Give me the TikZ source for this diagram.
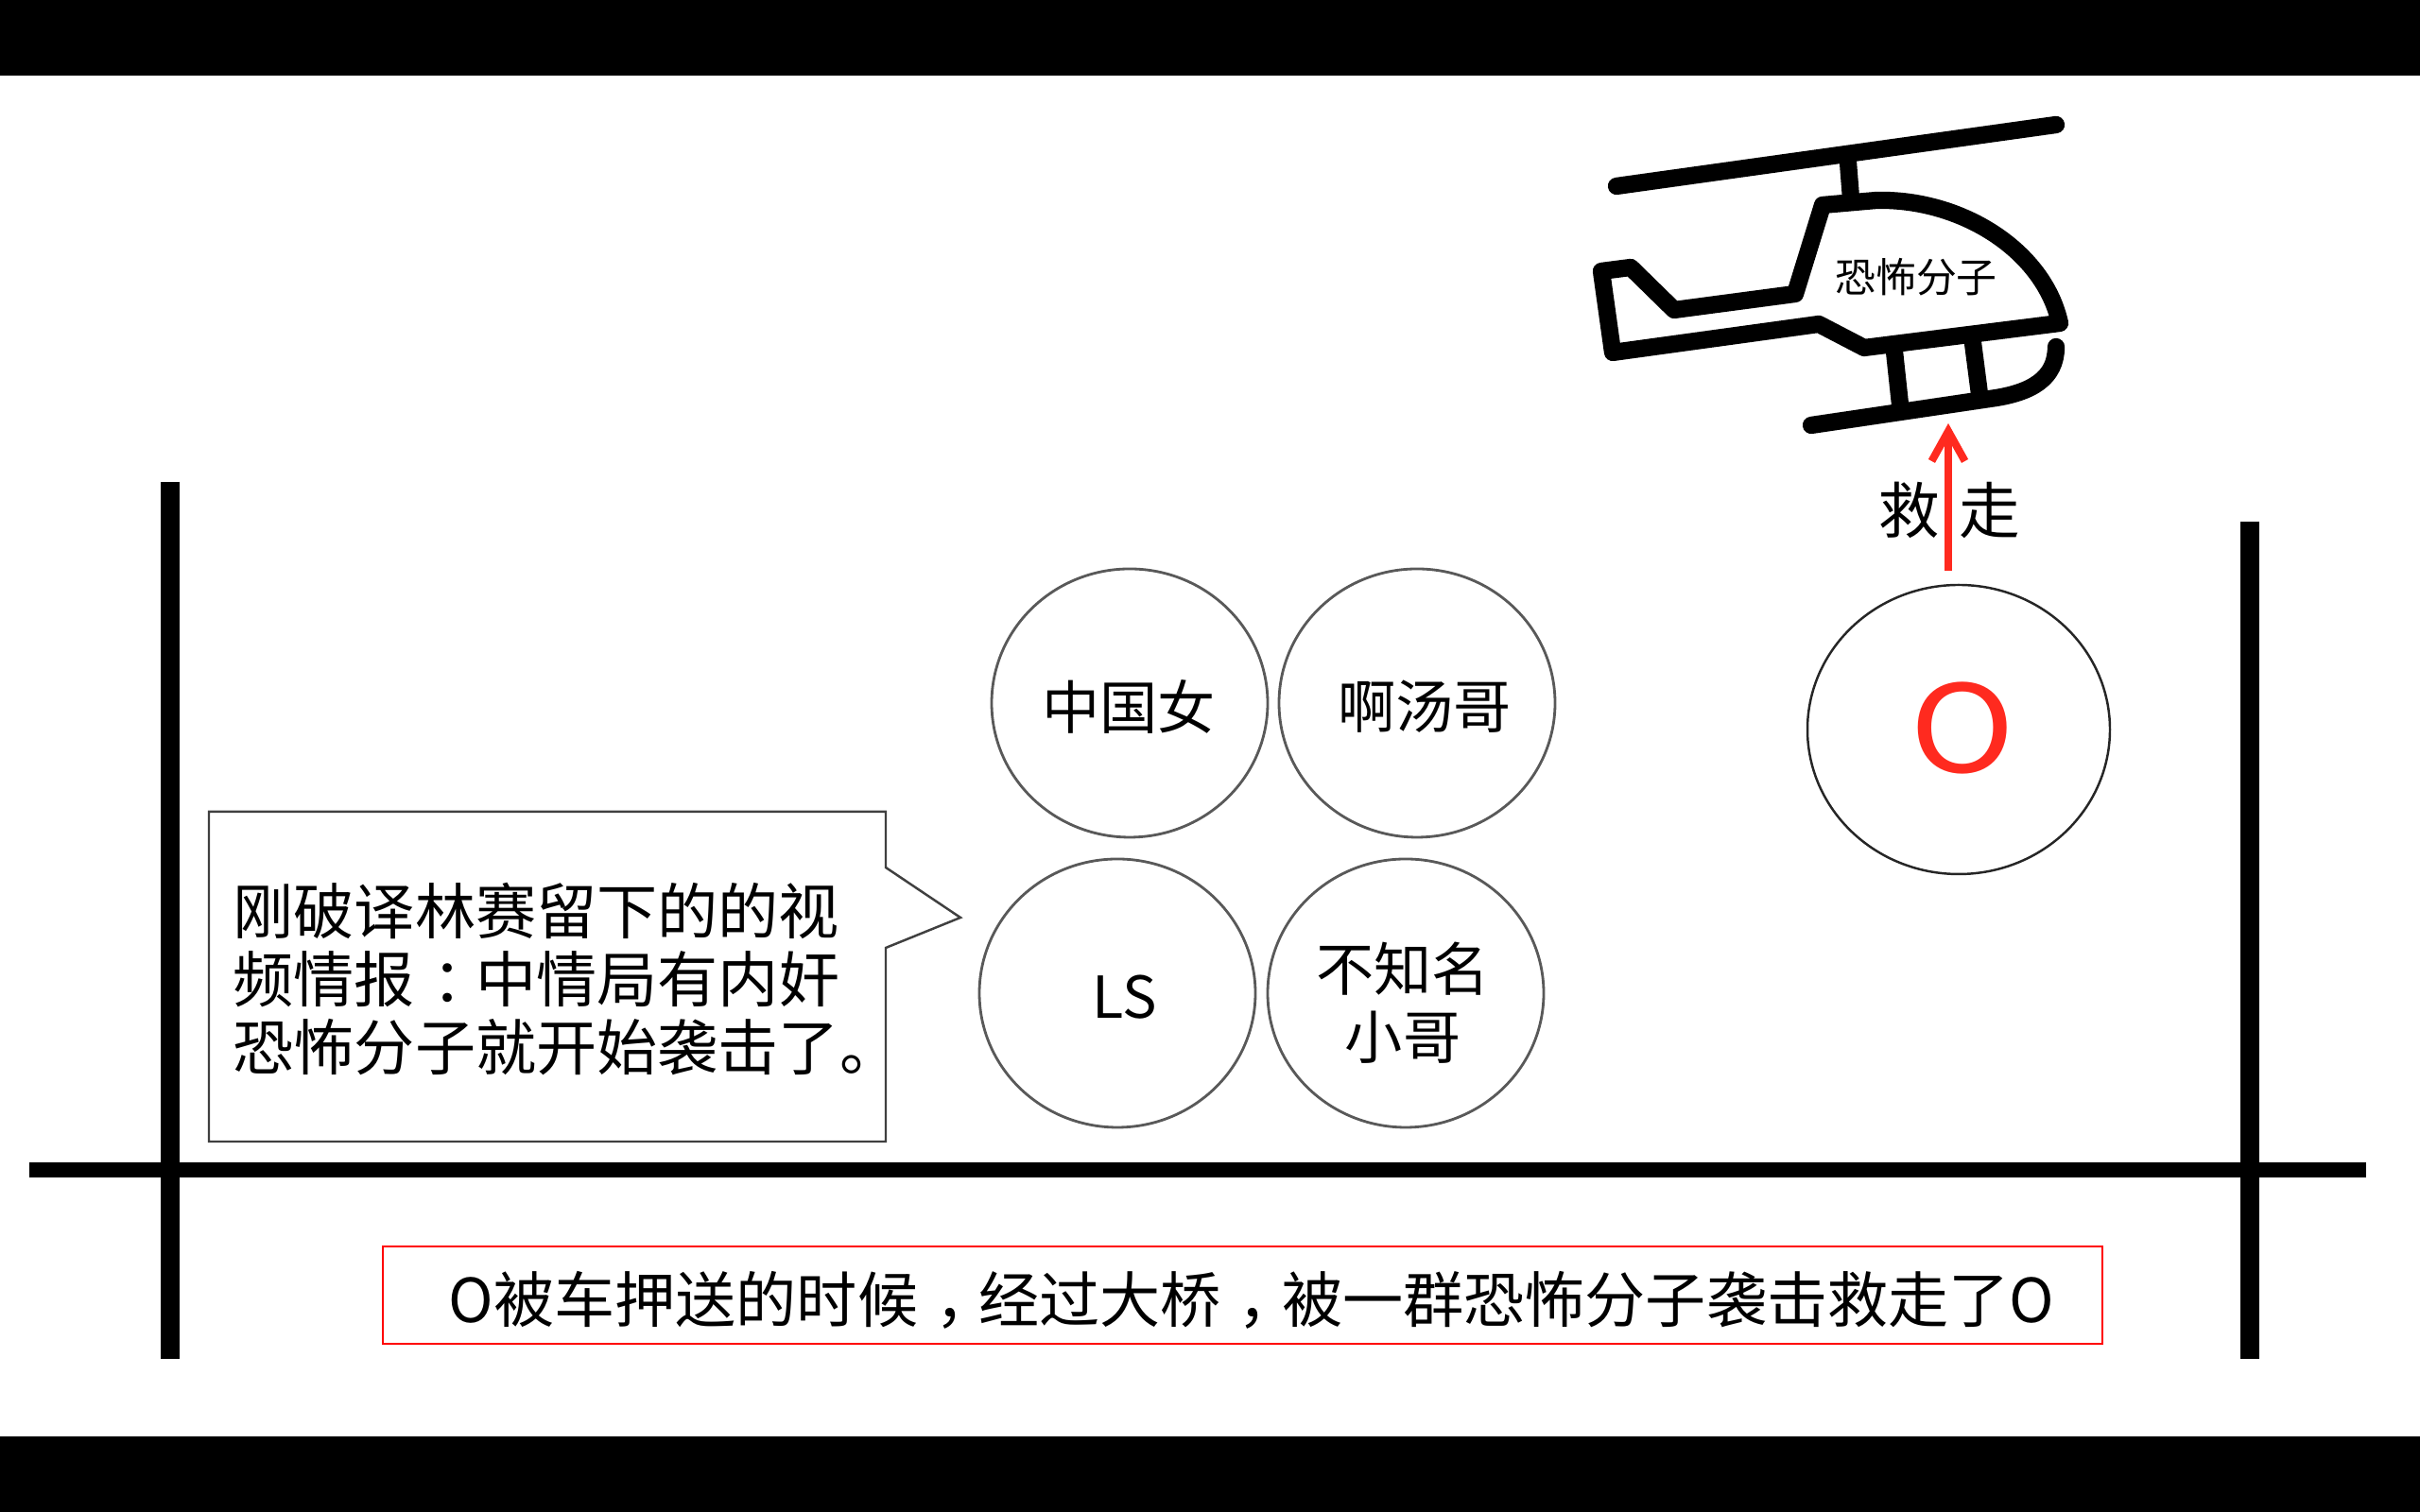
\documentclass[tikz,border=0pt]{standalone}
\usepackage{graphicx}
\usepackage{fontspec}
\setmainfont{Noto Sans CJK SC}
\newcommand{\cellpunc}[1]{\hspace{.28em}#1\hspace{-.28em}}
\usetikzlibrary{arrows.meta,shapes.geometric}
\definecolor{rescuered}{HTML}{FF2A1F}
\tikzset{
    thickbar/.style={line width=5.7pt},
    heliline/.style={line width=5.2pt,line join=round,line cap=round},
    person/.style={ellipse,draw=black!65,line width=.8pt,inner sep=0pt,minimum width=2.92cm,minimum height=2.84cm},
    namelabel/.style={font=\fontsize{17.4}{20.6}\selectfont,align=center},
    bigtext/.style={font=\fontsize{18.25}{20.6}\selectfont},
    rescue/.style={draw=rescuered,line width=2.3pt,-{Straight Barb[length=9pt,width=10pt]}}
}
\begin{document}
\begin{tikzpicture}
    \useasboundingbox (0,0) rectangle (25.6,16);
    \fill[black] (0,15.2) rectangle (25.6,16);
    \fill[black] (0,0) rectangle (25.6,.8);

    % bridge
    \draw[thickbar] (1.8,10.9) -- (1.8,1.62);
    \draw[thickbar] (23.8,10.48) -- (23.8,1.62);
    \draw[line width=4.3pt] (.31,3.62) -- (25.03,3.62);

    % people
    \node[person] (lady) at (11.95,8.56) {};
    \node[person] (tom) at (14.99,8.56) {};
    \node[person] (ls) at (11.82,5.49) {};
    \node[person] (nobody) at (14.87,5.49) {};
    \node[ellipse,draw=black!85,line width=.7pt,inner sep=0pt,minimum width=3.2cm,minimum height=3.06cm] (oman) at (20.72,8.28) {};
    \node[namelabel] (ladytext) at (11.94,8.52) {中国女};
    \node[namelabel] (tomtext) at (15.07,8.52) {啊汤哥};
    \node[namelabel] (lstext) at (11.9,5.45) {LS};
    \node[namelabel] (nobodytext) at (14.84,5.39) {不知名\\小哥};
    \node[text=rescuered,font=\fontsize{36.5}{40}\selectfont] (otext) at (20.76,8.29) {\scalebox{1.17}[1]{O}};

    % callout
    \draw[draw=black!75,line width=.7pt,fill=white] (2.21,7.41) -- (9.37,7.41) -- (9.37,6.82) -- (10.16,6.29) -- (9.37,5.97) -- (9.37,3.92) -- (2.21,3.92) -- cycle;
    \node[bigtext,align=left,anchor=west,inner sep=0pt] (calltext) at (2.46,5.64) {刚破译林赛留下的的视\\频情报\cellpunc{：}中情局有内奸\\恐怖分子就开始袭击了。};

    % helicopter
    \draw[heliline] (17.1,14.03) -- (21.75,14.68);
    \draw[heliline] (19.55,14.28) -- (19.58,13.9);
    \draw[heliline] (19.28,13.83) -- (19.85,13.88) .. controls (20.75,13.9) and (21.62,13.35) .. (21.79,12.58)
        -- (19.72,12.32) -- (19.24,12.57) -- (17.06,12.27) -- (16.94,13.13) -- (17.25,13.17)
        -- (17.71,12.72) -- (18.99,12.89) -- cycle;
    \draw[heliline] (19.16,11.50) -- (21.05,11.78) .. controls (21.5,11.84) and (21.75,12.0) .. (21.75,12.33);
    \draw[heliline] (20.04,12.28) -- (20.10,11.72);
    \draw[heliline] (20.87,12.37) -- (20.94,11.83);
    \node[font=\fontsize{12.2}{14}\selectfont] (helitext) at (20.27,13.07) {恐怖分子};

    % rescue
    \coordinate (skid) at (20.61,11.52);
    \coordinate (lift) at (20.61,9.96);
    \draw[rescue] (lift) -- (skid);
    \node[font=\fontsize{18.4}{20}\selectfont] (rescuetext) at (20.62,10.6) {救\hspace{.32em}走};

    % caption
    \node[draw=red,line width=.6pt,minimum width=18.19cm,minimum height=1.03cm,inner sep=0pt] (caption) at (13.145,2.295) {};
    \node[bigtext,inner sep=0pt] (captiontext) at (13.24,2.24) {O被车押送的时候\cellpunc{，}经过大桥\cellpunc{，}被一群恐怖分子袭击救走了O};
\end{tikzpicture}
\end{document}
